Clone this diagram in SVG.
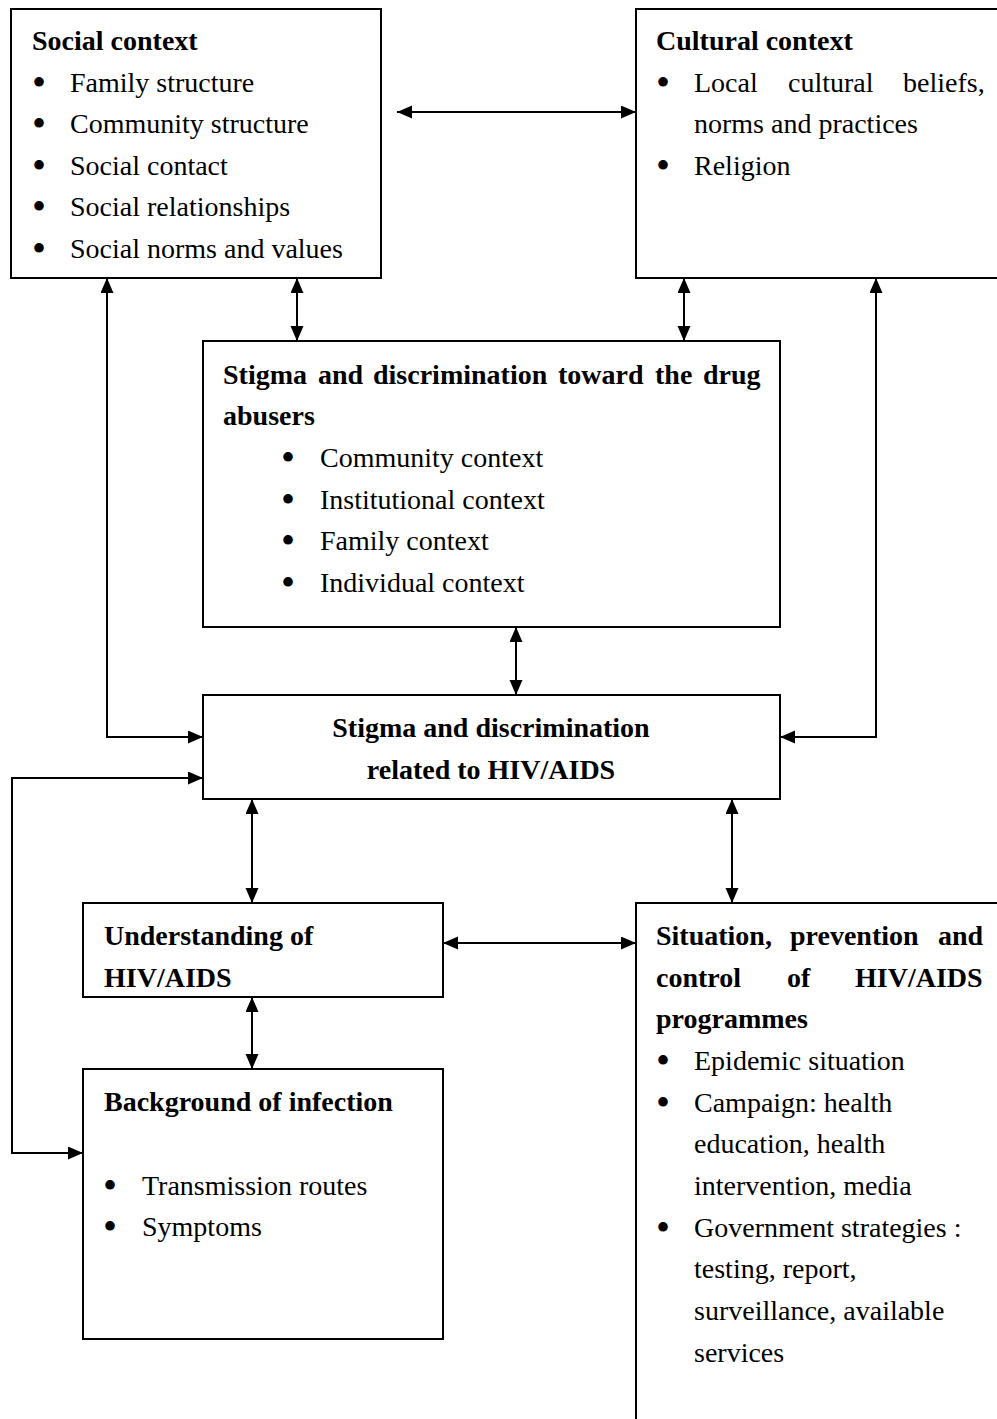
<svg xmlns="http://www.w3.org/2000/svg" width="997" height="1419" viewBox="0 0 997 1419">
<style>
  .box { fill: #fff; stroke: #000; stroke-width: 2; }
  .t { font-family: "Liberation Serif", "Times New Roman", serif; font-size: 28px; fill: #000; }
  .b { font-weight: bold; }
  .bul { font-family: "Liberation Serif", "Times New Roman", serif; font-size: 40px; fill: #000; text-anchor: middle; }
  .c { text-anchor: middle; }
  .con { fill: none; stroke: #000; stroke-width: 2; marker-start: url(#ah); marker-end: url(#ah); }
</style>
<defs>
  <marker id="ah" markerUnits="userSpaceOnUse" markerWidth="16" markerHeight="14" refX="15" refY="6.5" orient="auto-start-reverse">
    <path d="M0,0 L15,6.5 L0,13 z" fill="#000"/>
  </marker>
</defs>
<rect width="997" height="1419" fill="#fff"/>

<g id="social">
  <rect class="box" x="11" y="9" width="370" height="269"/>
  <text class="t b" x="32" y="50">Social context</text>
  <text class="bul" x="39" y="96">•</text><text class="t" x="70" y="92">Family structure</text>
  <text class="bul" x="39" y="137">•</text><text class="t" x="70" y="133">Community structure</text>
  <text class="bul" x="39" y="179">•</text><text class="t" x="70" y="175">Social contact</text>
  <text class="bul" x="39" y="220">•</text><text class="t" x="70" y="216">Social relationships</text>
  <text class="bul" x="39" y="262">•</text><text class="t" x="70" y="258">Social norms and values</text>
</g>

<g id="cultural">
  <rect class="box" x="636" y="9" width="380" height="269"/>
  <text class="t b" x="656" y="50">Cultural context</text>
  <text class="bul" x="663" y="96">•</text>
  <text class="t" y="92"><tspan x="694">Local</tspan><tspan x="788">cultural</tspan><tspan x="903">beliefs,</tspan></text>
  <text class="t" x="694" y="133">norms and practices</text>
  <text class="bul" x="663" y="179">•</text><text class="t" x="694" y="175">Religion</text>
</g>

<g id="stigma-drug">
  <rect class="box" x="203" y="341" width="577" height="286"/>
  <text class="t b" y="384"><tspan x="223">Stigma</tspan><tspan x="318">and</tspan><tspan x="373">discrimination</tspan><tspan x="558">toward</tspan><tspan x="655">the</tspan><tspan x="703">drug</tspan></text>
  <text class="t b" x="223" y="425">abusers</text>
  <text class="bul" x="288" y="471">•</text><text class="t" x="320" y="467">Community context</text>
  <text class="bul" x="288" y="513">•</text><text class="t" x="320" y="509">Institutional context</text>
  <text class="bul" x="288" y="554">•</text><text class="t" x="320" y="550">Family context</text>
  <text class="bul" x="288" y="596">•</text><text class="t" x="320" y="592">Individual context</text>
</g>

<g id="stigma-hiv">
  <rect class="box" x="203" y="695" width="577" height="104"/>
  <text class="t b c" x="491" y="737">Stigma and discrimination</text>
  <text class="t b c" x="491" y="779">related to HIV/AIDS</text>
</g>

<g id="understanding">
  <rect class="box" x="83" y="903" width="360" height="94"/>
  <text class="t b" x="104" y="945">Understanding of</text>
  <text class="t b" x="104" y="987">HIV/AIDS</text>
</g>

<g id="background">
  <rect class="box" x="83" y="1069" width="360" height="270"/>
  <text class="t b" x="104" y="1111">Background of infection</text>
  <text class="bul" x="110" y="1199">•</text><text class="t" x="142" y="1195">Transmission routes</text>
  <text class="bul" x="110" y="1240">•</text><text class="t" x="142" y="1236">Symptoms</text>
</g>

<g id="situation">
  <rect class="box" x="636" y="903" width="380" height="530"/>
  <text class="t b" y="945"><tspan x="656">Situation,</tspan><tspan x="790">prevention</tspan><tspan x="938">and</tspan></text>
  <text class="t b" y="987"><tspan x="656">control</tspan><tspan x="787">of</tspan><tspan x="855">HIV/AIDS</tspan></text>
  <text class="t b" x="656" y="1028">programmes</text>
  <text class="bul" x="663" y="1074">•</text><text class="t" x="694" y="1070">Epidemic situation</text>
  <text class="bul" x="663" y="1116">•</text><text class="t" x="694" y="1112">Campaign: health</text>
  <text class="t" x="694" y="1153">education, health</text>
  <text class="t" x="694" y="1195">intervention, media</text>
  <text class="bul" x="663" y="1241">•</text><text class="t" x="694" y="1237">Government strategies :</text>
  <text class="t" x="694" y="1278">testing, report,</text>
  <text class="t" x="694" y="1320">surveillance, available</text>
  <text class="t" x="694" y="1362">services</text>
</g>

<g id="connectors">
  <path class="con" d="M397,112 L636,112"/>
  <path class="con" d="M297,278 L297,341"/>
  <path class="con" d="M684,278 L684,341"/>
  <path class="con" d="M107,278 L107,737 L203,737"/>
  <path class="con" d="M876,278 L876,737 L780,737"/>
  <path class="con" d="M516,627 L516,695"/>
  <path class="con" d="M203,778 L12,778 L12,1153 L83,1153"/>
  <path class="con" d="M252,799 L252,903"/>
  <path class="con" d="M732,799 L732,903"/>
  <path class="con" d="M443,943 L636,943"/>
  <path class="con" d="M252,997 L252,1069"/>
</g>
</svg>
